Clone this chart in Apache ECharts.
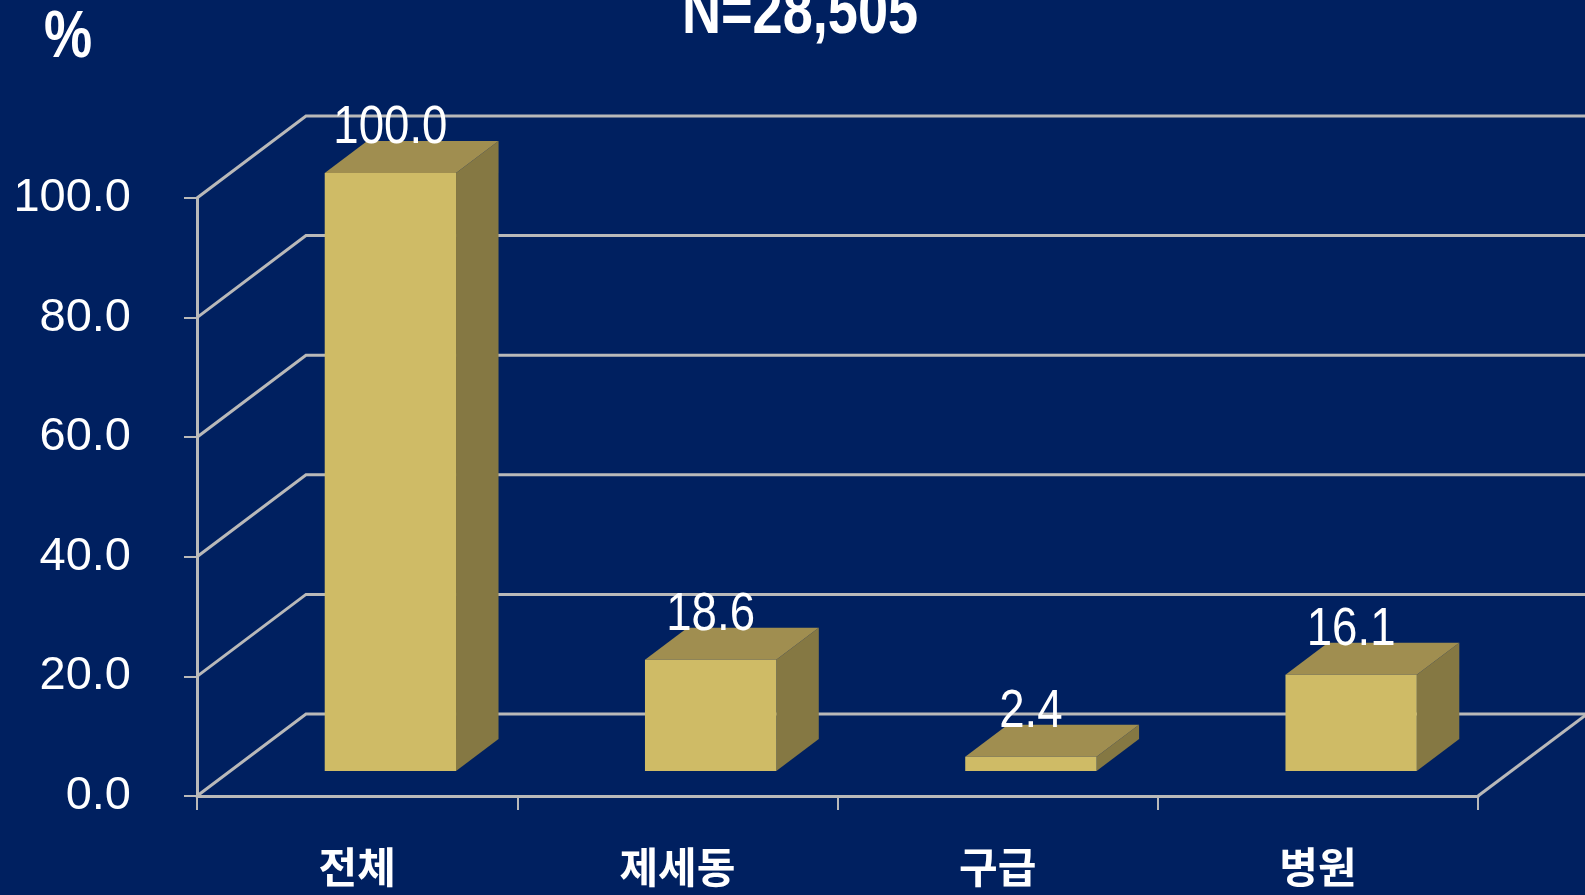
<!DOCTYPE html>
<html>
<head>
<meta charset="utf-8">
<script src="https://cdn.jsdelivr.net/npm/echarts@6/dist/echarts.min.js"></script>
<style>
html,body{margin:0;padding:0;background:#002060;}
#chart{width:1585px;height:895px;}
</style>
</head>
<body>
<div id="chart"></div>
<script>
// ---- data ----
const categories = ['전체', '제세동', '구급', '병원'];
const values = [100.0, 18.6, 2.4, 16.1];
const yTicks = [0, 20, 40, 60, 80, 100];
const titleText = 'N=28,505';
const unitText = '%';

// ---- style constants ----
const SANS = "'Liberation Sans', Arial, sans-serif";
const KR = "'Noto Sans CJK KR', sans-serif";
const LINE = '#b9b9b9';
const DX = 109, DY = 82;          // depth projection (px)
const FRONT = 0.305, DEPTH = 0.39; // bar position within depth
const BAR_W = 0.41;
const NARROW_SCALE = 0.82;

const chart = echarts.init(document.getElementById('chart'), null, {renderer: 'canvas'});

const option = {
  backgroundColor: '#002060',
  animation: false,
  grid: {left: 197, right: 107, top: 198, bottom: 99, containLabel: false, outerBoundsMode: 'none'},
  graphic: [
    {type: 'text', x: 800, y: 15, scaleX: NARROW_SCALE,
      style: {text: titleText, fill: '#fff', font: 'bold 66px ' + SANS, textAlign: 'center', textVerticalAlign: 'middle'}},
    {type: 'text', x: 68, y: 39, scaleX: NARROW_SCALE,
      style: {text: unitText, fill: '#fff', font: 'bold 66px ' + SANS, textAlign: 'center', textVerticalAlign: 'middle'}}
  ],
  xAxis: {
    type: 'category',
    data: categories,
    boundaryGap: true,
    axisLine: {show: true, lineStyle: {color: LINE, width: 3}},
    axisTick: {show: true, length: 14, lineStyle: {color: LINE, width: 2}},
    axisLabel: {color: '#fff', fontSize: 42, fontWeight: 'bold', fontFamily: KR, margin: 50},
    splitLine: {show: false}
  },
  yAxis: {
    type: 'value',
    min: 0, max: 100, interval: 20,
    axisLine: {show: true, lineStyle: {color: LINE, width: 3}},
    axisTick: {show: true, length: 13, lineStyle: {color: LINE, width: 2}},
    axisLabel: {color: '#fff', fontSize: 47, fontFamily: SANS, margin: 66,
      formatter: v => v.toFixed(1)},
    splitLine: {show: false}
  },
  series: [
    {
      // back wall and floor grid
      type: 'custom',
      z: 1,
      clip: false,
      silent: true,
      data: yTicks.map(v => [0, v]),
      encode: {x: 0, y: 1},
      renderItem: function (params, api) {
        const cs = params.coordSys;
        const v = api.value(1);
        const y = api.coord([0, v])[1];
        const x0 = cs.x;
        const children = [{
          type: 'polyline',
          shape: {points: [[x0, y], [x0 + DX, y - DY], [api.getWidth() + 5, y - DY]]},
          style: {stroke: LINE, lineWidth: 3, fill: null}
        }];
        if (v === 0) {
          const xr = cs.x + cs.width;
          children.push({
            type: 'line',
            shape: {x1: xr, y1: y, x2: xr + DX, y2: y - DY},
            style: {stroke: LINE, lineWidth: 3}
          });
        }
        return {type: 'group', children: children};
      }
    },
    {
      // 3D bars
      type: 'custom',
      z: 3,
      clip: false,
      data: values.map((v, i) => [i, v]),
      encode: {x: 0, y: 1},
      renderItem: function (params, api) {
        const i = api.value(0), v = api.value(1);
        const top = api.coord([i, v]);
        const base = api.coord([i, 0]);
        const bw = api.size([1, 0])[0] * BAR_W;
        const ox = DX * FRONT, oy = DY * FRONT;
        const dx = DX * DEPTH, dy = DY * DEPTH;
        const L = top[0] - bw / 2 + ox, R = top[0] + bw / 2 + ox;
        const T = top[1] - oy, B = base[1] - oy;
        return {
          type: 'group',
          children: [
            {type: 'polygon', shape: {points: [[R, T], [R + dx, T - dy], [R + dx, B - dy], [R, B]]}, style: {fill: '#857843'}},
            {type: 'polygon', shape: {points: [[L, T], [R, T], [R + dx, T - dy], [L + dx, T - dy]]}, style: {fill: '#a08e50'}},
            {type: 'rect', shape: {x: L, y: T, width: R - L, height: B - T}, style: {fill: '#cfbb66'}},
            {type: 'text', x: (L + R) / 2, y: T - dy + 14, z2: 10, scaleX: 0.86,
              style: {text: v.toFixed(1), fill: '#fff', font: '53px ' + SANS, textAlign: 'center', textVerticalAlign: 'bottom'}}
          ]
        };
      }
    }
  ]
};
chart.setOption(option);
</script>
</body>
</html>
